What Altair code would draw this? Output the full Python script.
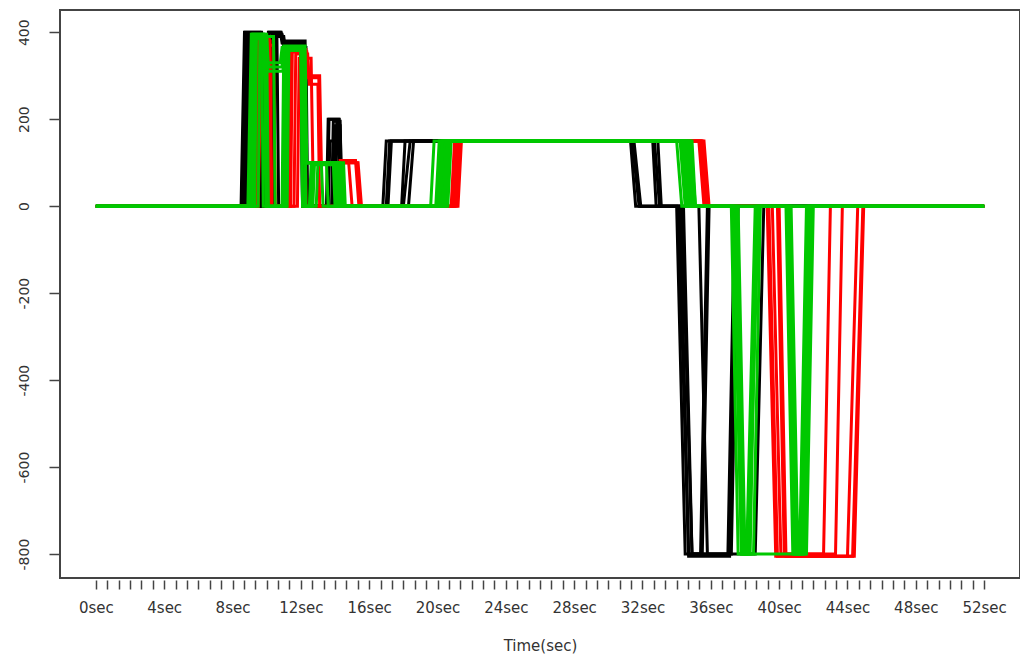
import altair as alt
import pandas as pd

# ---- black runs ----
black1_t = [0, 8.5, 8.7, 9.6, 9.7, 10.0, 10.1, 10.8, 10.9, 12.2, 12.3, 13.5, 13.6, 14.2, 14.3, 16.8, 17.0, 31.3, 31.6, 34.0, 34.5, 37.0, 37.4, 52]
black1_v = [0, 0, 400, 400, 0, 0, 400, 400, 375, 375, 0, 0, 200, 200, 0, 0, 150, 150, 0, 0, -800, -800, 0, 0]
black2_t = [0, 8.7, 8.85, 9.8, 9.9, 10.2, 10.3, 10.9, 11.0, 12.1, 12.2, 13.8, 13.9, 14.3, 14.4, 17.0, 17.2, 31.5, 31.9, 34.2, 34.7, 35.4, 35.8, 52]
black2_v = [0, 0, 395, 395, 0, 0, 395, 395, 370, 370, 0, 0, 195, 195, 0, 0, 150, 150, 0, 0, -800, -800, 0, 0]
black3_t = [0, 8.6, 8.8, 9.3, 9.4, 10.4, 10.5, 11.0, 11.1, 12.0, 12.1, 14.0, 14.1, 14.2, 14.3, 17.9, 18.1, 32.6, 32.8, 35.3, 35.8, 38.6, 39.1, 52]
black3_v = [0, 0, 380, 380, 0, 0, 390, 390, 360, 360, 0, 0, 190, 190, 0, 0, 150, 150, 0, 0, -800, -800, 0, 0]
black4_t = [0, 8.9, 9.0, 9.5, 9.6, 10.1, 10.2, 10.6, 10.7, 11.1, 11.2, 12.3, 12.4, 13.6, 13.7, 14.0, 14.1, 18.3, 18.6, 32.9, 33.1, 34.4, 34.9, 37.2, 37.6, 52]
black4_v = [0, 0, 395, 395, 0, 0, 385, 385, 0, 0, 365, 365, 0, 0, 150, 150, 0, 0, 150, 150, 0, 0, -800, -800, 0, 0]
black5_t = [0, 8.55, 8.75, 9.7, 9.8, 10.05, 10.15, 10.85, 10.95, 12.25, 12.35, 13.55, 13.65, 14.25, 14.35, 17.1, 17.3, 31.4, 31.8, 34.1, 34.7, 37.1, 37.5, 52]
black5_v = [0, 0, 400, 400, 0, 0, 400, 400, 380, 380, 0, 0, 200, 200, 0, 0, 150, 150, 0, 0, -805, -805, 0, 0]
black6_t = [0, 8.8, 8.95, 9.5, 9.6, 10.3, 10.4, 10.9, 11.0, 12.0, 12.1, 13.9, 14.0, 14.3, 14.4, 18.0, 18.4, 32.7, 33.0, 34.3, 34.9, 35.5, 35.9, 52]
black6_v = [0, 0, 390, 390, 0, 0, 390, 390, 365, 365, 0, 0, 185, 185, 0, 0, 150, 150, 0, 0, -800, -800, 0, 0]

# ---- red runs ----
red1_t = [0, 9.2, 9.4, 10.1, 10.2, 11.2, 11.3, 12.3, 12.4, 13.1, 13.2, 15.3, 15.5, 20.8, 21.0, 35.3, 35.6, 39.3, 39.8, 44.3, 44.9, 52]
red1_v = [0, 0, 390, 390, 0, 0, 360, 360, 300, 300, 100, 100, 0, 0, 150, 150, 0, 0, -805, -805, 0, 0]
red2_t = [0, 9.3, 9.5, 10.0, 10.1, 11.4, 11.5, 12.2, 12.3, 14.2, 14.3, 15.2, 15.4, 21.0, 21.2, 35.4, 35.7, 39.6, 40.1, 42.6, 43.0, 52]
red2_v = [0, 0, 385, 385, 0, 0, 355, 355, 0, 0, 105, 105, 0, 0, 150, 150, 0, 0, -800, -800, 0, 0]
red3_t = [0, 9.5, 9.7, 10.2, 10.3, 11.6, 11.7, 12.4, 12.5, 13.0, 13.1, 21.1, 21.3, 35.5, 35.8, 39.9, 40.3, 43.3, 43.7, 52]
red3_v = [0, 0, 380, 380, 0, 0, 350, 350, 280, 280, 0, 0, 150, 150, 0, 0, -800, -800, 0, 0]
red4_t = [0, 9.4, 9.6, 10.4, 10.5, 11.8, 11.9, 12.6, 12.7, 14.8, 15.0, 21.2, 21.4, 35.6, 35.9, 40.0, 40.4, 44.0, 44.6, 52]
red4_v = [0, 0, 370, 370, 0, 0, 340, 340, 100, 100, 0, 0, 150, 150, 0, 0, -805, -805, 0, 0]
red5_t = [0, 9.35, 9.55, 10.15, 10.25, 11.3, 11.4, 12.35, 12.45, 13.05, 13.15, 15.35, 15.55, 20.9, 21.1, 35.45, 35.8, 39.4, 39.9, 44.4, 44.95, 52]
red5_v = [0, 0, 385, 385, 0, 0, 355, 355, 295, 295, 100, 100, 0, 0, 150, 150, 0, 0, -805, -805, 0, 0]

# ---- green runs ----
green1_t = [0, 8.9, 9.1, 9.9, 10.0, 10.9, 11.0, 12.2, 12.3, 14.5, 14.6, 19.6, 19.8, 34.0, 34.3, 37.2, 37.6, 41.6, 42.0, 52]
green1_v = [0, 0, 395, 395, 0, 0, 365, 365, 100, 100, 0, 0, 150, 150, 0, 0, -800, -800, 0, 0]
green2_t = [0, 9.1, 9.2, 9.8, 9.9, 10.8, 10.9, 12.0, 12.1, 12.6, 12.7, 14.2, 14.3, 19.9, 20.1, 34.3, 34.6, 37.4, 37.8, 38.3, 38.7, 52]
green2_v = [0, 0, 395, 395, 330, 330, 365, 365, 0, 0, 100, 100, 0, 0, 150, 150, 0, 0, -800, -800, 0, 0]
green3_t = [0, 9.0, 9.2, 9.7, 9.8, 11.1, 11.2, 12.1, 12.2, 13.9, 14.0, 20.2, 20.4, 34.6, 34.9, 40.4, 40.8, 41.3, 41.7, 52]
green3_v = [0, 0, 390, 390, 0, 0, 365, 365, 100, 100, 0, 0, 150, 150, 0, 0, -800, -800, 0, 0]
green4_t = [0, 9.3, 9.4, 10.4, 10.5, 11.0, 11.1, 12.2, 12.3, 12.5, 12.6, 14.4, 14.5, 20.5, 20.7, 34.8, 35.1, 37.6, 38.0, 38.5, 38.9, 52]
green4_v = [0, 0, 390, 390, 0, 0, 360, 360, 0, 0, 95, 95, 0, 0, 150, 150, 0, 0, -800, -800, 0, 0]
green5_t = [0, 9.2, 9.3, 9.9, 10.0, 11.2, 11.3, 12.0, 12.1, 12.9, 13.0, 14.1, 14.2, 20.3, 20.5, 34.5, 34.8, 40.6, 41.0, 41.5, 41.9, 52]
green5_v = [0, 0, 385, 385, 0, 0, 360, 360, 0, 0, 100, 100, 0, 0, 150, 150, 0, 0, -800, -800, 0, 0]
green6_t = [0, 9.05, 9.15, 10.0, 10.1, 10.9, 11.0, 12.25, 12.35, 14.3, 14.4, 20.0, 20.2, 34.2, 34.5, 37.3, 37.8, 38.1, 38.6, 52]
green6_v = [0, 0, 395, 395, 320, 320, 368, 368, 100, 100, 0, 0, 150, 150, 0, 0, -800, -800, 0, 0]
green7_t = [0, 9.5, 9.6, 10.0, 10.1, 11.05, 11.15, 12.15, 12.25, 12.7, 12.8, 14.0, 14.1, 20.6, 20.8, 34.9, 35.1, 40.5, 40.9, 41.4, 41.8, 52]
green7_v = [0, 0, 390, 390, 0, 0, 362, 362, 0, 0, 100, 100, 0, 0, 150, 150, 0, 0, -800, -800, 0, 0]
green8_t = [0, 9.15, 9.25, 9.95, 10.05, 10.95, 11.05, 12.1, 12.2, 13.5, 13.6, 20.1, 20.3, 34.4, 34.7, 37.5, 37.9, 38.2, 38.8, 52]
green8_v = [0, 0, 392, 392, 310, 310, 362, 362, 100, 100, 0, 0, 150, 150, 0, 0, -800, -800, 0, 0]
green9_t = [0, 9.25, 9.35, 9.85, 9.95, 11.15, 11.25, 12.05, 12.15, 13.2, 13.3, 20.4, 20.6, 34.7, 35.0, 40.7, 41.1, 41.2, 41.6, 52]
green9_v = [0, 0, 388, 388, 0, 0, 358, 358, 100, 100, 0, 0, 150, 150, 0, 0, -800, -800, 0, 0]

# ---- axis values ----
x_tick_values = [i * 2 / 3 for i in range(79)]
x_label_step = 4
y_tick_values = [-800, -600, -400, -200, 0, 200, 400]

runs = [
    ("black", "b1", black1_t, black1_v), ("black", "b2", black2_t, black2_v),
    ("black", "b3", black3_t, black3_v), ("black", "b4", black4_t, black4_v),
    ("black", "b5", black5_t, black5_v), ("black", "b6", black6_t, black6_v),
    ("red", "r1", red1_t, red1_v), ("red", "r2", red2_t, red2_v),
    ("red", "r3", red3_t, red3_v), ("red", "r4", red4_t, red4_v),
    ("red", "r5", red5_t, red5_v),
    ("green", "g1", green1_t, green1_v), ("green", "g2", green2_t, green2_v),
    ("green", "g3", green3_t, green3_v), ("green", "g4", green4_t, green4_v),
    ("green", "g5", green5_t, green5_v), ("green", "g6", green6_t, green6_v),
    ("green", "g7", green7_t, green7_v), ("green", "g8", green8_t, green8_v),
    ("green", "g9", green9_t, green9_v),
]
rows = []
for col, name, ts, vs in runs:
    for i, (t, v) in enumerate(zip(ts, vs)):
        rows.append({"grp": col, "run": name, "t": t, "v": v, "i": i})
df = pd.DataFrame(rows)

colors = {"black": "#000000", "red": "#FF0000", "green": "#00C800"}

x_enc = alt.X(
    "t:Q",
    scale=alt.Scale(domain=[-2.1, 54.1], nice=False, zero=False),
    axis=alt.Axis(
        values=x_tick_values,
        labelExpr=f"abs(datum.value/{x_label_step} - round(datum.value/{x_label_step})) < 0.01 ? round(datum.value) + 'sec' : ''",
        title="Time(sec)",
        grid=False, domain=False,
        tickSize=9, tickColor="#444", tickWidth=1.5, offset=2,
        labelFont="DejaVu Sans", labelFontSize=15, labelColor="#333",
        labelPadding=11, labelOverlap=False, labelBound=False, labelFlush=False,
        titleFont="DejaVu Sans", titleFontSize=15, titleFontWeight="normal",
        titleColor="#333", titlePadding=23,
    ),
)
y_enc = alt.Y(
    "v:Q",
    scale=alt.Scale(domain=[-855, 451], nice=False, zero=False),
    axis=alt.Axis(
        values=y_tick_values,
        labelExpr="datum.value + ''",
        title=None, grid=False, domain=False,
        tickSize=10, tickColor="#444", tickWidth=1.5, offset=1,
        labelAngle=270, labelAlign="center", labelBaseline="bottom",
        labelFont="DejaVu Sans", labelFontSize=14, labelColor="#333",
        labelPadding=18, labelOverlap=False, labelBound=False, labelFlush=False,
    ),
)

layers = []
for col in ["black", "red", "green"]:
    layers.append(
        alt.Chart(df)
        .transform_filter(alt.datum.grp == col)
        .mark_line(color=colors[col], strokeWidth=3, clip=True)
        .encode(x=x_enc, y=y_enc, detail="run:N", order="i:Q")
    )

chart = (
    alt.layer(*layers)
    .properties(
        width=960, height=568,
        background="white",
        autosize=alt.AutoSizeParams(type="none"),
        padding={"left": 52, "top": 2, "right": 0, "bottom": 76},
    )
    .configure_view(stroke="#444", strokeWidth=2)
)

chart.save("out.html", embed_options={"renderer": "svg", "actions": False})
